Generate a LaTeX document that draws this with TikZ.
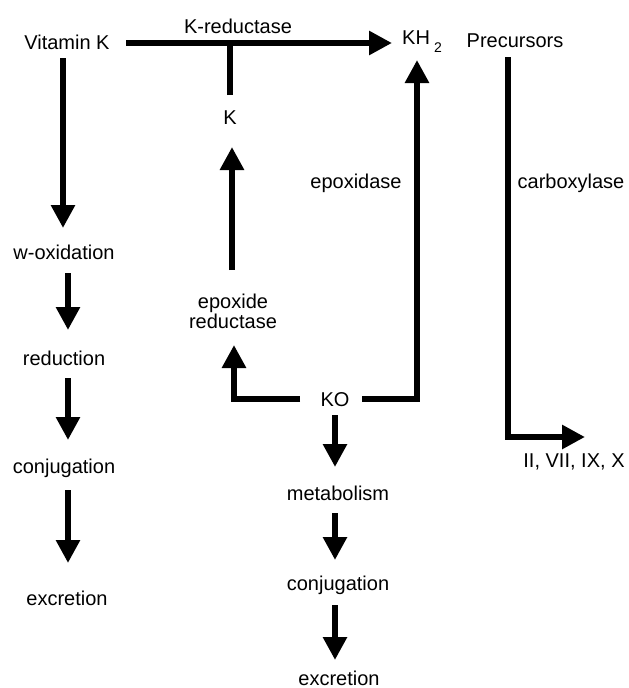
\documentclass[tikz,border=0pt]{standalone}
\usepackage{fontspec}
\setmainfont{Liberation Sans}
\usetikzlibrary{arrows.meta,calc}
\begin{document}
\begin{tikzpicture}[x=1pt,y=-1pt,
  lbl/.style={font=\fontsize{20}{20}\selectfont, inner sep=0pt, align=center},
  conn/.style={line width=6.5pt, line join=miter},
  ar/.style={conn, -{Triangle[width=23pt,length=23pt]}}]
\useasboundingbox (0,0) rectangle (629,688);
% nodes
\node[lbl] (vk) at (67,42) {Vitamin K};
\node[lbl] (kred) at (238,26) {K-reductase};
\node[lbl] (kh2) at (422,42) {KH\raisebox{-8pt}{\fontsize{14}{14}\selectfont\hspace{4pt}2}};
\node[lbl] (prec) at (515,41) {Precursors};
\node[lbl] (K) at (230,118) {K};
\node[lbl] (epox) at (356,183) {epoxidase};
\node[lbl] (carb) at (571,183) {carboxylase};
\node[lbl] (epred) at (233,311) {epoxide\\reductase};
\node[lbl] (KO) at (335,400) {KO};
\node[lbl] (fac) at (574,462) {II, VII, IX, X};
\node[lbl] (wox) at (64,252) {w-oxidation};
\node[lbl] (red) at (64,358) {reduction};
\node[lbl] (conja) at (64,468) {conjugation};
\node[lbl] (exca) at (67,598) {excretion};
\node[lbl] (metab) at (338,493) {metabolism};
\node[lbl] (conjb) at (338,585) {conjugation};
\node[lbl] (excb) at (339,678) {excretion};
% connectors
\draw[ar] ($(vk)+(59,1)$) -- ($(kh2)+(-30,1)$);
\draw[conn] ($(K)+(0,-23)$) -- ($(K)+(0,-75)$);
\draw[ar] ($(epred)+(-1,-41)$) -- ($(K)+(2,29)$);
\draw[ar] ($(KO)+(-35,-1)$) -| ($(epred)+(1,34)$);
\draw[ar] ($(KO)+(27,-1)$) -| ($(kh2)+(-5,18)$);
\draw[ar] ($(KO)+(0,15)$) -- ($(metab)+(-3,-26)$);
\draw[ar] ($(metab)+(-3,20)$) -- ($(conjb)+(-3,-25)$);
\draw[ar] ($(conjb)+(-3,20)$) -- ($(excb)+(-4,-18)$);
\draw[ar] ($(prec)+(-7,16)$) |- ($(fac)+(11,-25)$);
\draw[ar] ($(vk)+(-4,16)$) -- ($(wox)+(-1,-24)$);
\draw[ar] ($(wox)+(4,21)$) -- ($(red)+(4,-28)$);
\draw[ar] ($(red)+(4,20)$) -- ($(conja)+(4,-28)$);
\draw[ar] ($(conja)+(4,22)$) -- ($(exca)+(1,-35)$);
\end{tikzpicture}
\end{document}
